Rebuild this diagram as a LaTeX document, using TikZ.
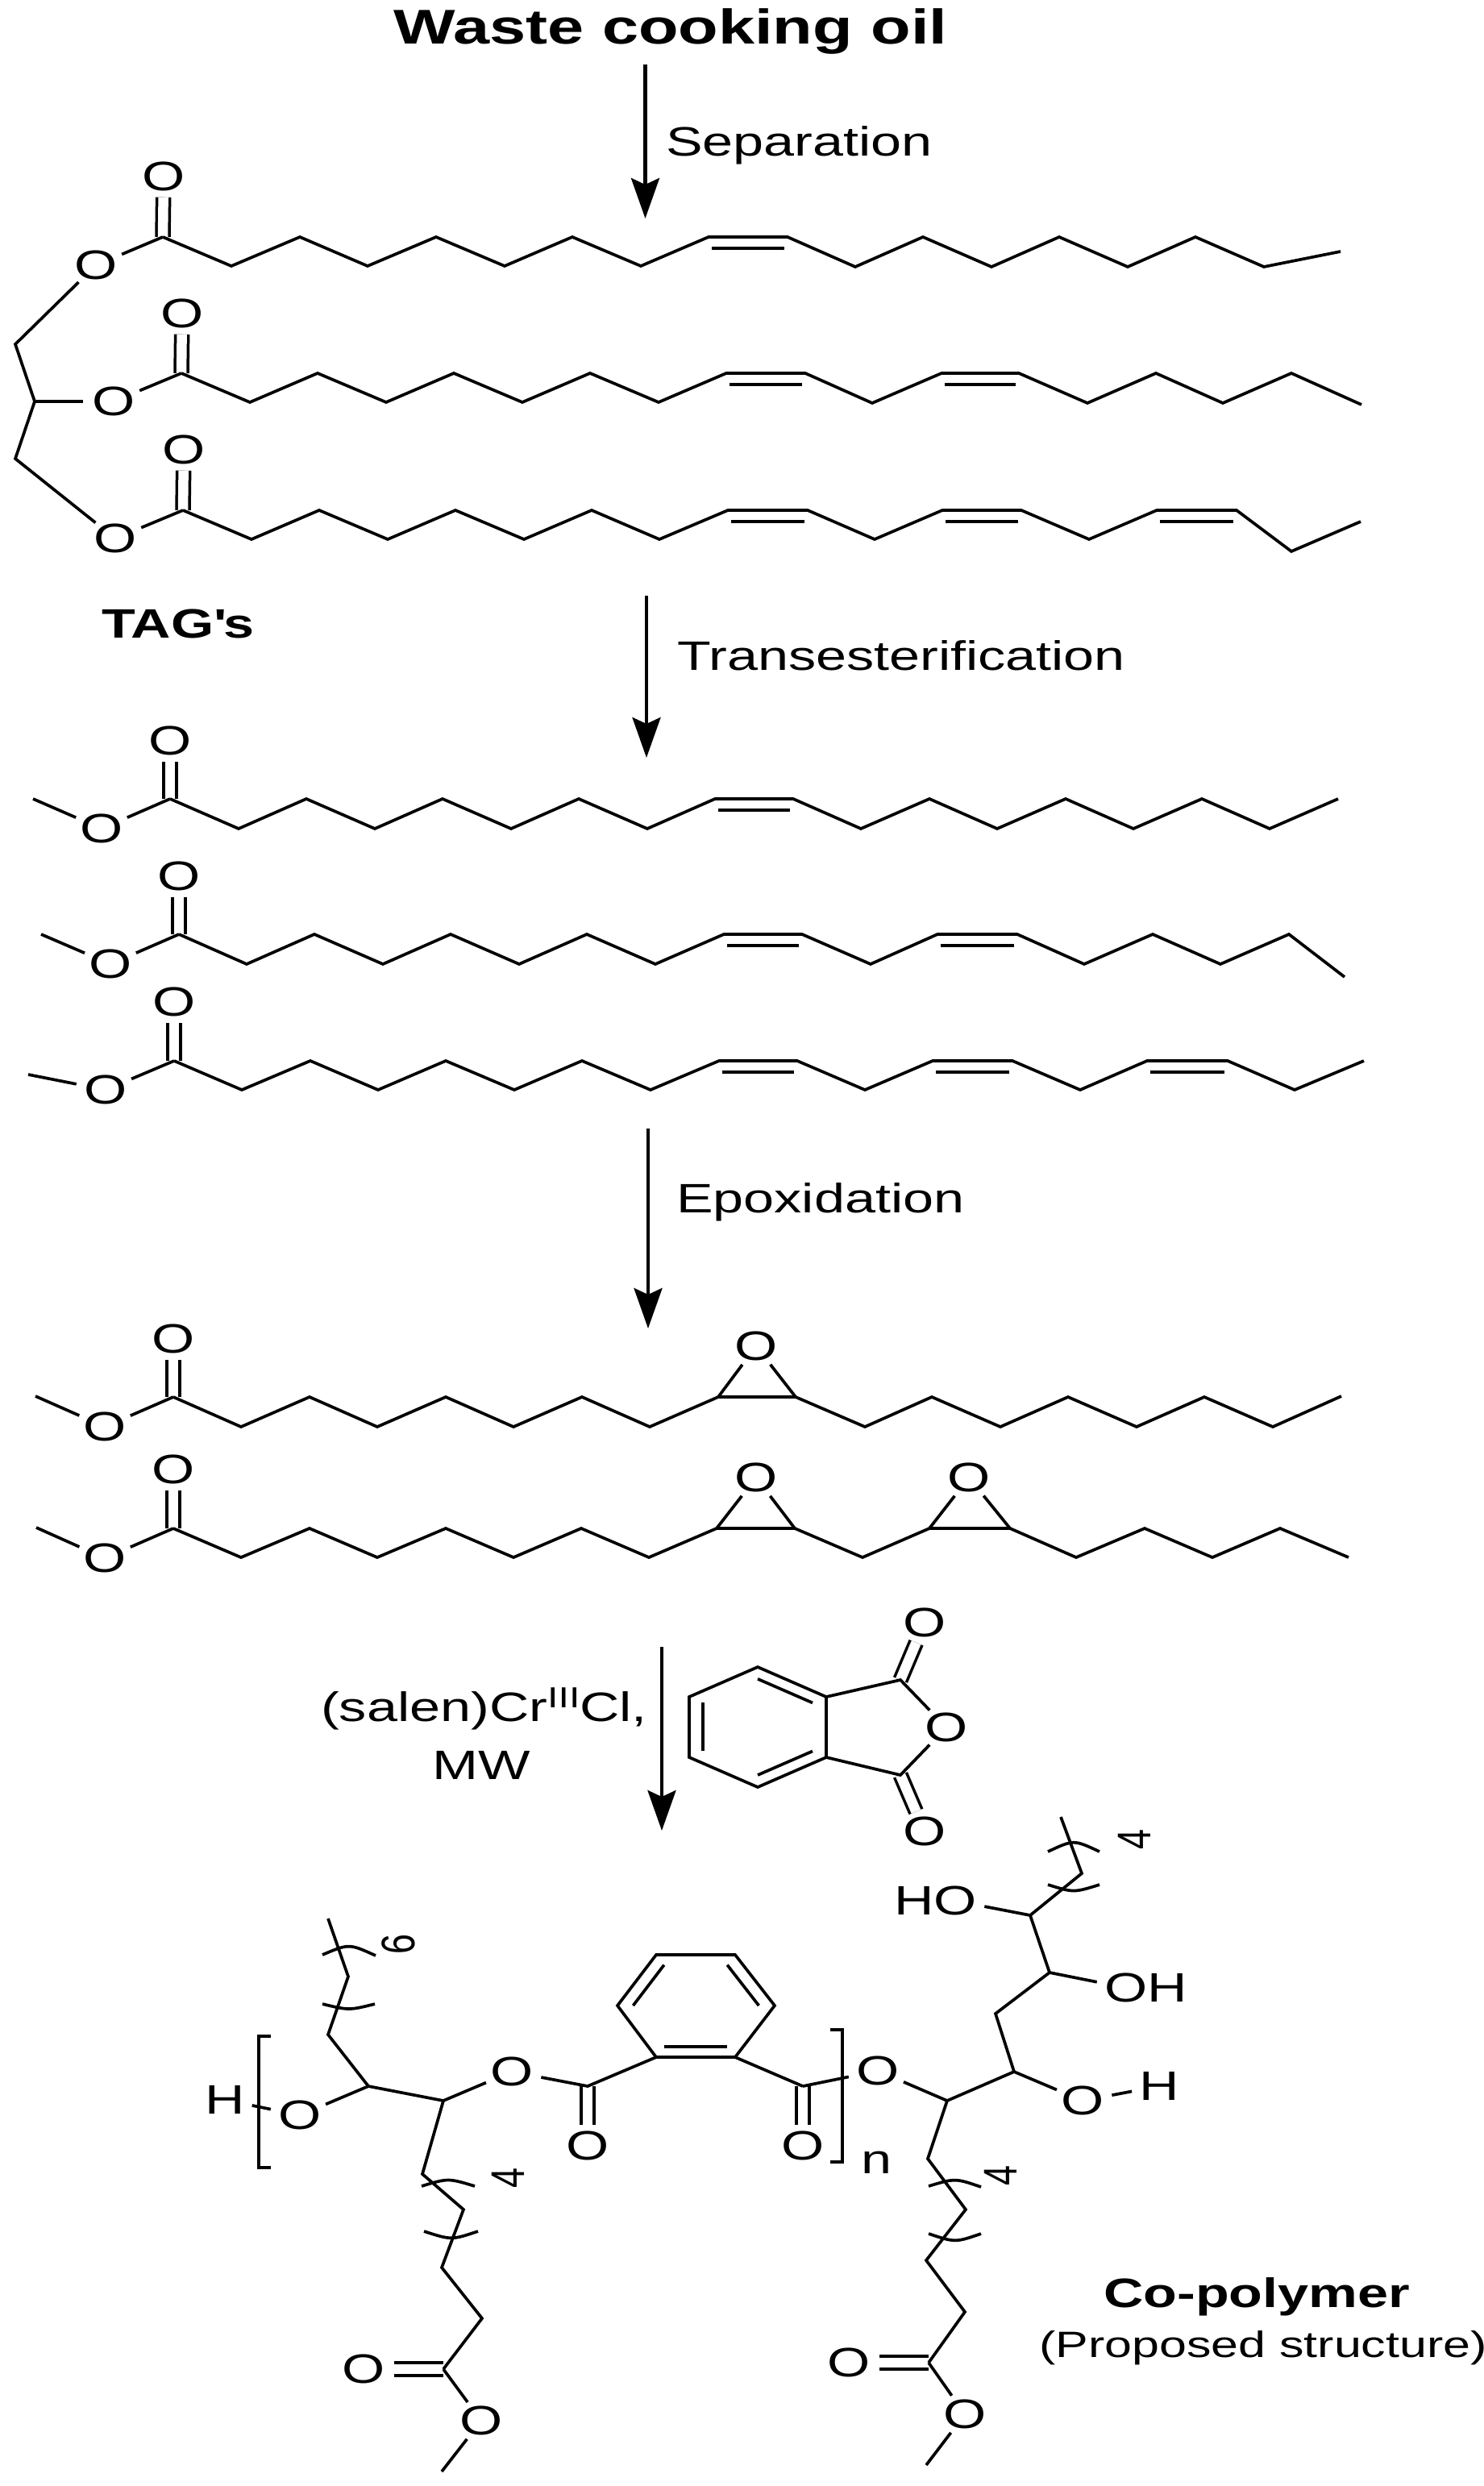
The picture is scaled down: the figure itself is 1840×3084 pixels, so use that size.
\documentclass[tikz,border=0pt]{standalone}
\usepackage{fontspec}
\setmainfont[FakeStretch=1.34]{Liberation Sans}
\newfontfamily\digitfont{Liberation Sans}
\usetikzlibrary{arrows.meta, calc, shapes.geometric}

\newcommand{\pts}[2]{\foreach \px/\py [count=\k] in {#2} {\coordinate (#1\k) at (\px,\py);}}
\newcommand{\chain}[1]{\draw [bond] (#11) \foreach \k in {2,...,18} {-- (#1\k)};}
\newcommand{\cisbond}[2]{\draw [bond] ([shift={(4,14)}]#1) -- ([shift={(-4,14)}]#2);}
\newcommand{\inbond}[3]{\draw [bond] ($(#1)!.2!(#3)$) -- ($(#2)!.2!(#3)$);}
\newcommand{\turned}[1]{\scalebox{1.3}[1]{\rotatebox{90}{\fontsize{45}{50}\digitfont #1}}}

\tikzset{
  bond/.style={line width=3.7pt},
  dbl/.style={line width=3.5pt, double, double distance=12.5pt},
  rxn/.style={line width=4.4pt, -{Stealth[length=50pt, width=35pt, inset=8pt]}},
  atom/.style={ellipse, inner sep=0pt},
  lab/.style={anchor=base west, inner sep=0pt},
  every node/.style={font=\fontsize{51}{56}\selectfont}
}

\begin{document}
\begin{tikzpicture}[x=1pt, y=-1pt]
  \useasboundingbox (0, 0) rectangle (1840, 3084);

  \node [anchor=base, inner sep=0pt, font=\fontsize{60.5}{66}\selectfont\bfseries] (waste) at (832, 54) {Waste cooking oil};
  \node [lab] (sep) at (826, 193) {Separation};
  \node [lab, font=\fontsize{51}{56}\selectfont\bfseries] (tags) at (126, 791) {TAG\textquotesingle s};
  \node [lab] (trans) at (840, 831) {Transesterification};
  \node [lab] (epox) at (839, 1504) {Epoxidation};
  \node [lab] (salen) at (398, 2135) {(salen)Cr\raisebox{17pt}{\fontsize{36}{40}\selectfont III}Cl,};
  \node [anchor=base, inner sep=0pt] (mw) at (597, 2207) {MW};
  \node [anchor=base, inner sep=0pt, font=\fontsize{51}{56}\selectfont\bfseries] (copol) at (1559, 2862) {Co-polymer};
  \node [anchor=base, inner sep=0pt, font=\fontsize{45.5}{50}\selectfont] (prop) at (1567, 2924) {(Proposed structure)};

  \coordinate (r1a) at (800.5, 80);
  \coordinate (r1b) at (800.5, 271);
  \coordinate (r2a) at (802, 739);
  \coordinate (r2b) at (802, 940);
  \coordinate (r3a) at (804, 1400);
  \coordinate (r3b) at (804, 1648);
  \coordinate (r4a) at (821, 2043);
  \coordinate (r4b) at (821, 2271);
  \draw [rxn] (r1a) -- (r1b);
  \draw [rxn] (r2a) -- (r2b);
  \draw [rxn] (r3a) -- (r3b);
  \draw [rxn] (r4a) -- (r4b);

  % TAG chains
  \pts{a}{202/294, 287/330, 372/294, 456/330, 541/294, 626/330, 710/294, 795/330, 879/294, 977/294, 1061/331, 1145/294, 1230/331, 1314/294, 1399/331, 1483/294, 1568/331, 1663/312}
  \pts{b}{225/463, 310/499, 394/463, 479/499, 563/463, 648/499, 732/463, 817/499, 901/463, 999/463, 1082/500, 1168/463, 1264/463, 1349/500, 1434/463, 1517/500, 1602/463, 1689/502}
  \pts{c}{227/633, 312/669, 396/633, 481/669, 565/633, 650/669, 734/633, 818/669, 903/633, 1002/633, 1085/669, 1169/633, 1267/633, 1351/669, 1435/633, 1534/633, 1602/684, 1688/647}
  \coordinate (g1) at (19, 427);
  \coordinate (g2) at (43, 498);
  \coordinate (g3) at (19, 569);
  \node [atom] (oa) at (203, 219) {O};
  \node [atom] (ob) at (226, 389) {O};
  \node [atom] (oc) at (228, 558) {O};
  \node [atom] (ea) at (119, 329) {O};
  \node [atom] (eb) at (141, 498) {O};
  \node [atom] (ec) at (143, 668) {O};
  \draw [dbl] (a1) -- (oa);
  \draw [dbl] (b1) -- (ob);
  \draw [dbl] (c1) -- (oc);
  \draw [bond] (ea) -- (a1);
  \draw [bond] (eb) -- (b1);
  \draw [bond] (ec) -- (c1);
  \draw [bond] (ea) -- (g1) -- (g2) -- (g3) -- (ec);
  \draw [bond] (g2) -- (eb);
  \chain{a}
  \chain{b}
  \chain{c}
  \cisbond{a9}{a10}
  \cisbond{b9}{b10}
  \cisbond{b12}{b13}
  \cisbond{c9}{c10}
  \cisbond{c12}{c13}
  \cisbond{c15}{c16}

  % methyl esters
  \pts{d}{211/991, 296/1028, 380/991, 465/1028, 549/991, 634/1028, 718/991, 803/1028, 887/991, 984/991, 1068/1028, 1153/991, 1237/1028, 1322/991, 1406/1028, 1491/991, 1575/1028, 1660/991}
  \pts{e}{222/1159, 306/1196, 390/1159, 475/1196, 559/1159, 644/1196, 728/1159, 813/1196, 898/1159, 995/1159, 1080/1196, 1163/1159, 1262/1159, 1345/1196, 1430/1159, 1514/1196, 1599/1159, 1668/1212}
  \pts{f}{216/1316, 300/1352, 385/1316, 469/1352, 553/1316, 638/1352, 722/1316, 807/1352, 892/1316, 989/1316, 1073/1352, 1157/1316, 1256/1316, 1340/1352, 1423/1316, 1523/1316, 1606/1352, 1692/1316}
  \coordinate (md) at (41, 991);
  \coordinate (me) at (51, 1159);
  \coordinate (mf) at (35, 1333);
  \node [atom] (od) at (211, 919) {O};
  \node [atom] (oe) at (222, 1087) {O};
  \node [atom] (of) at (216, 1243) {O};
  \node [atom] (sd) at (126, 1028) {O};
  \node [atom] (se) at (137, 1196) {O};
  \node [atom] (sf) at (131, 1352) {O};
  \draw [dbl] (d1) -- (od);
  \draw [dbl] (e1) -- (oe);
  \draw [dbl] (f1) -- (of);
  \draw [bond] (md) -- (sd);
  \draw [bond] (me) -- (se);
  \draw [bond] (mf) -- (sf);
  \draw [bond] (sd) -- (d1);
  \draw [bond] (se) -- (e1);
  \draw [bond] (sf) -- (f1);
  \chain{d}
  \chain{e}
  \chain{f}
  \cisbond{d9}{d10}
  \cisbond{e9}{e10}
  \cisbond{e12}{e13}
  \cisbond{f9}{f10}
  \cisbond{f12}{f13}
  \cisbond{f15}{f16}

  % epoxides
  \pts{h}{215/1733, 299/1770, 384/1733, 468/1770, 553/1733, 637/1770, 722/1733, 806/1770, 891/1733, 987/1733, 1073/1770, 1156/1733, 1241/1770, 1325/1733, 1410/1770, 1494/1733, 1579/1770, 1664/1732}
  \pts{i}{215/1896, 299/1932, 384/1896, 468/1932, 553/1896, 637/1932, 721/1896, 805/1932, 889/1896, 986/1896, 1070/1932, 1153/1896, 1253/1896, 1335/1932, 1420/1896, 1504/1932, 1588/1896, 1673/1932}
  \coordinate (mh) at (44, 1732);
  \coordinate (mi) at (45, 1895);
  \node [atom] (oh) at (215, 1661) {O};
  \node [atom] (oi) at (215, 1823) {O};
  \node [atom] (sh) at (130, 1770) {O};
  \node [atom] (si) at (130, 1933) {O};
  \node [atom] (xh) at (938, 1670) {O};
  \node [atom] (xi) at (938, 1833) {O};
  \node [atom] (xj) at (1202, 1833) {O};
  \draw [dbl] (h1) -- (oh);
  \draw [dbl] (i1) -- (oi);
  \draw [bond] (mh) -- (sh);
  \draw [bond] (mi) -- (si);
  \draw [bond] (sh) -- (h1);
  \draw [bond] (si) -- (i1);
  \chain{h}
  \chain{i}
  \draw [bond] (h9) -- (xh) -- (h10);
  \draw [bond] (i9) -- (xi) -- (i10);
  \draw [bond] (i12) -- (xj) -- (i13);

  % anhydride
  \pts{q}{940/2068, 1025/2105, 1025/2180, 940/2217, 855/2180, 855/2105}
  \coordinate (qc) at (940, 2142);
  \coordinate (qt) at (1117, 2084);
  \coordinate (qb) at (1117, 2202);
  \node [atom] (ot) at (1147, 2013) {O};
  \node [atom] (oo) at (1174, 2143) {O};
  \node [atom] (ob2) at (1147, 2272) {O};
  \draw [dbl] (qt) -- (ot);
  \draw [dbl] (qb) -- (ob2);
  \draw [bond] (q1) -- (q2) -- (q3) -- (q4) -- (q5) -- (q6) -- cycle;
  \draw [bond] (q2) -- (qt) -- (oo) -- (qb) -- (q3);
  \inbond{q1}{q2}{qc}
  \inbond{q3}{q4}{qc}
  \inbond{q5}{q6}{qc}

  % polymer, left part
  \pts{u}{407/2380, 432/2452, 407/2524, 457/2588, 550/2606}
  \pts{v}{524/2697, 575/2741, 548/2813, 598/2876, 550/2939}
  \pts{p}{814/2552, 912/2552, 961/2488, 912/2425, 814/2425, 766/2488}
  \coordinate (pc) at (863, 2488);
  \coordinate (pl) at (729, 2588);
  \coordinate (pr) at (996, 2588);
  \coordinate (cv) at (548, 3066);
  \node [atom] (hl) at (279, 2605) {H};
  \node [atom] (ol) at (372, 2624) {O};
  \node [atom] (obr) at (635, 2570) {O};
  \node [atom] (opl) at (729, 2662) {O};
  \node [atom] (opr) at (996, 2662) {O};
  \node [atom] (ovl) at (451, 2939) {O};
  \node [atom] (ovb) at (597, 3003) {O};
  \draw [dbl] (pl) -- (opl);
  \draw [dbl] (pr) -- (opr);
  \draw [dbl] (v5) -- (ovl);
  \draw [bond] (hl) -- (ol) -- (u4);
  \draw [bond] (u1) -- (u2) -- (u3) -- (u4) -- (u5) -- (v1) -- (v2) -- (v3) -- (v4) -- (v5);
  \draw [bond] (u5) -- (obr) -- (pl) -- (p1);
  \draw [bond] (p1) -- (p2) -- (p3) -- (p4) -- (p5) -- (p6) -- cycle;
  \draw [bond] (p2) -- (pr);
  \inbond{p1}{p2}{pc}
  \inbond{p3}{p4}{pc}
  \inbond{p5}{p6}{pc}
  \draw [bond] (v5) -- (ovb) -- (cv);
  \draw [bond] (336, 2526) -- (321, 2526) -- (321, 2689) -- (336, 2689);
  \draw [bond] (1030, 2518) -- (1045, 2518) -- (1045, 2682) -- (1030, 2682);
  \node [lab] (nn) at (1068, 2696) {n};
  \draw [bond] (400, 2425) .. controls (433, 2411) .. (466, 2426);
  \draw [bond] (400, 2486) .. controls (433, 2494) .. (465, 2486);
  \draw [bond] (523, 2712) .. controls (556, 2702) .. (589, 2712);
  \draw [bond] (526, 2768) .. controls (560, 2779) .. (593, 2768);
  \node (six) at (494, 2412) {\turned{6}};
  \node (fourl) at (630, 2702) {\turned{4}};

  % polymer, right part
  \pts{w}{1316/2254, 1342/2324, 1278/2376, 1302/2447, 1235/2498, 1258/2570, 1175/2606, 1151/2678, 1198/2741, 1149/2804, 1197/2868, 1152/2931}
  \coordinate (cw) at (1149, 3058);
  \node [atom] (or) at (1089, 2569) {O};
  \node [atom] (oha) at (1343, 2606) {O};
  \node [atom] (hha) at (1438, 2588) {H};
  \node [atom] (ohb) at (1397, 2466) {O};
  \node (hhb) at (1448, 2466) {H};
  \node [atom] (ohc) at (1185, 2358) {O};
  \node (hhc) at (1134, 2358) {H};
  \node [atom] (owl) at (1053, 2931) {O};
  \node [atom] (owb) at (1197, 2995) {O};
  \draw [dbl] (w12) -- (owl);
  \draw [bond] (pr) -- (or) -- (w7);
  \draw [bond] (w1) -- (w2) -- (w3) -- (w4) -- (w5) -- (w6) -- (w7) -- (w8) -- (w9) -- (w10) -- (w11) -- (w12);
  \draw [bond] (w6) -- (oha) -- (hha);
  \draw [bond] (w4) -- (ohb);
  \draw [bond] (w3) -- (ohc);
  \draw [bond] (w12) -- (owb) -- (cw);
  \draw [bond] (1300, 2297) .. controls (1332, 2282) .. (1364, 2297);
  \draw [bond] (1300, 2338) .. controls (1332, 2348) .. (1364, 2338);
  \draw [bond] (1152, 2712) .. controls (1185, 2702) .. (1217, 2713);
  \draw [bond] (1152, 2771) .. controls (1185, 2782) .. (1217, 2771);
  \node (fourt) at (1407, 2282) {\turned{4}};
  \node (fourb) at (1241, 2699) {\turned{4}};
\end{tikzpicture}
\end{document}
